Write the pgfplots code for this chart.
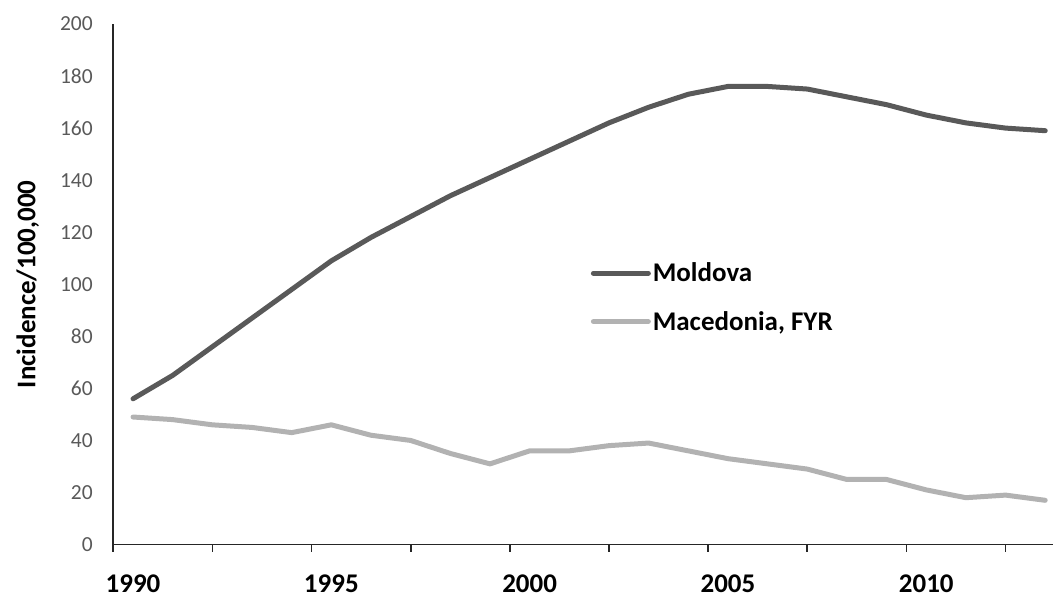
\documentclass[border=0pt]{standalone}
\usepackage{pgfplots}
\pgfplotsset{compat=1.18}
\usepackage{fontspec}
\setmainfont{Carlito}
\definecolor{dark}{HTML}{595959}
\definecolor{light}{HTML}{B2B2B2}
\definecolor{ticktxt}{HTML}{595959}
\begin{document}
\begin{tikzpicture}
\begin{axis}[
  at={(0,0)}, anchor=south west,
  scale only axis, width=940.7bp, height=521bp,
  xmin=1989.5, xmax=2013.2, ymin=0, ymax=200,
  axis y line*=left, axis x line*=bottom,
  axis line style={line width=1.7bp, black!85},
  xtick={1989.5,1992,1994.5,1997,1999.5,2002,2004.5,2007,2009.5,2012},
  xticklabels={},
  extra x ticks={1990,1995,2000,2005,2010},
  extra x tick labels={1990,1995,2000,2005,2010},
  extra x tick style={major tick length=0pt, tick style={draw=none},
     xticklabel style={font=\fontsize{27bp}{29bp}\selectfont\bfseries, text=black, inner sep=0pt, text depth=0pt, yshift=-30bp}},
  x tick style={line width=1.7bp, black!85},
  major tick length=7bp, tick align=outside,
  ytick={0,20,...,200},
  y tick style={draw=none},
  yticklabel style={font=\fontsize{21.5bp}{23bp}\selectfont, text=ticktxt, xshift=-10bp},
  /pgf/number format/assume math mode=true,
  ylabel={\bfseries Incidence/100,000},
  ylabel style={font=\fontsize{27bp}{29bp}\selectfont, at={(axis description cs:-0.091,0.5)}, anchor=center, rotate=0},
  legend style={at={(axis description cs:0.508,0.545)}, anchor=north west, draw=none, fill=none,
     font=\fontsize{27bp}{29bp}\selectfont\bfseries, row sep=24bp, inner sep=0pt},
  legend cell align=left,
  legend image code/.code={\draw[#1] (0bp,0bp) -- (55bp,0bp);},
  clip=false,
]
\addplot[dark, line width=5bp, line cap=round, line join=round] coordinates {
(1990,56) (1991,65) (1992,76) (1993,87) (1994,98) (1995,109) (1996,118) (1997,126)
(1998,134) (1999,141) (2000,148) (2001,155) (2002,162) (2003,168) (2004,173) (2005,176)
(2006,176) (2007,175) (2008,172) (2009,169) (2010,165) (2011,162) (2012,160) (2013,159)};
\addlegendentry{Moldova}
\addplot[light, line width=5bp, line cap=round, line join=round] coordinates {
(1990,49) (1991,48) (1992,46) (1993,45) (1994,43) (1995,46) (1996,42) (1997,40)
(1998,35) (1999,31) (2000,36) (2001,36) (2002,38) (2003,39) (2004,36) (2005,33)
(2006,31) (2007,29) (2008,25) (2009,25) (2010,21) (2011,18) (2012,19) (2013,17)};
\addlegendentry{Macedonia, FYR}
\end{axis}
\path[use as bounding box] (-113.3bp,-53bp) rectangle (940.7bp,545bp);
\end{tikzpicture}
\end{document}
